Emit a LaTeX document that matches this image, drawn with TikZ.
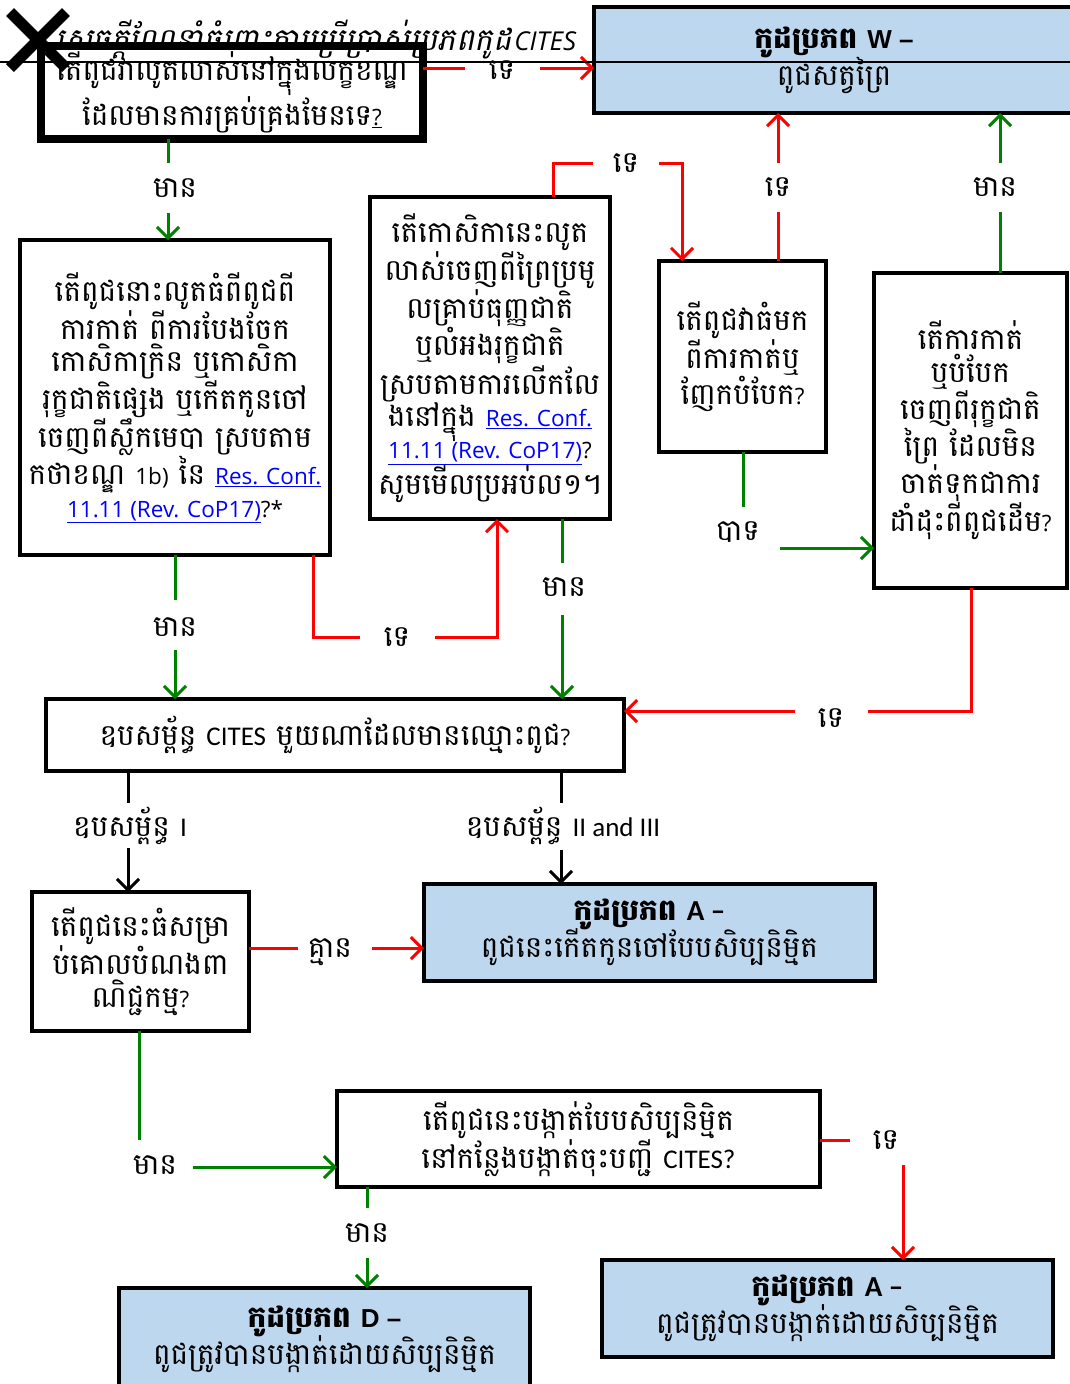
\documentclass[tikz,border=0pt]{standalone}
\usepackage{fontspec}
\usetikzlibrary{arrows.meta}
\setmainfont{Open Sans}
\newfontfamily\kh[Script=Khmer]{Battambang}
\newfontfamily\khit[Script=Khmer,FakeSlant=0.2]{Battambang}
\newfontfamily\osans{Open Sans}
\newfontfamily\calf{Carlito}
\newfontfamily\arialf{Liberation Sans}
\newcommand\lat[1]{{\osans\fontsize{22.5}{32.4}\selectfont #1}}
\newcommand\latc[1]{{\calf\fontsize{27}{32.4}\selectfont #1}}
\newcommand\hdr[1]{{\arialf\bfseries\fontsize{26}{32.4}\selectfont #1}}
\newcommand\hdrc[1]{{\calf\bfseries\fontsize{29}{32.4}\selectfont #1}}
\definecolor{boxblue}{HTML}{BDD7EE}
\definecolor{okgreen}{HTML}{008000}
\definecolor{linkblue}{HTML}{0000FF}
\newcommand\lnkx[1]{\textcolor{linkblue}{\underline{\osans\fontsize{22.5}{32.4}\selectfont #1}}}
\newcommand\khtext{\kh\fontsize{29.5}{32.4}\selectfont}
\tikzset{
  box/.style={draw=black, line width=4pt, fill=white, inner sep=0pt, outer sep=0pt, align=center, font=\khtext},
  bluebox/.style={box, fill=boxblue, line width=3.5pt},
  gline/.style={draw=okgreen, line width=3pt},
  rline/.style={draw=red, line width=3pt},
  kline/.style={draw=black, line width=3pt},
  tip/.style={-{Straight Barb[length=11pt,width=22pt]}},
  lbl/.style={font=\khtext, inner sep=0pt},
}
\begin{document}
\begin{tikzpicture}[x=1pt,y=-1pt]
\useasboundingbox (0,0) rectangle (1070,1384);
\fill[white] (0,0) rectangle (1070,1384);
% title (partly hidden)
\node[anchor=base, inner sep=0pt] (title) at (316,50) {{\khit\fontsize{31}{34}\selectfont សេចក្ដីណែនាំចំពោះការប្រើប្រាស់ប្រភពកូដ} {\osans\itshape\fontsize{26}{30}\selectfont CITES}};
% boxes
\node[box, fill=none, line width=8pt, minimum width=382pt, minimum height=93pt] (q1) at (232,92.5) {\raisebox{-3pt}{តើពូជវាលូតលាស់នៅក្នុងលក្ខខណ្ឌ}\\ដែលមានការគ្រប់គ្រងមែនទេ\lat{\underline{?}}};
\node[bluebox, minimum width=480pt, minimum height=106pt] (w) at (834,60) {{\bfseries កូដប្រភព \hdr{W –}}\\[-2pt]ពូជសត្វព្រៃ};
\node[box, minimum width=310pt, minimum height=315pt] (q2) at (175,397.5) {តើពូជនោះលូតធំពីពូជពី\\ការកាត់ ពីការបែងចែក\\កោសិកាក្រិន ឬកោសិកា\\រុក្ខជាតិផ្សេង ឬកើតកូនចៅ\\ចេញពីស្លឹកមេបា ស្របតាម\\កថាខណ្ឌ \lat{1b)} នៃ \lnkx{Res. Conf.}\\\lnkx{11.11 (Rev. CoP17)}\lat{?*}};
\node[box, minimum width=240pt, minimum height=322pt] (q3) at (490,358) {តើកោសិកានេះលូត\\លាស់ចេញពីព្រៃប្រមូ\\លគ្រាប់ធុញ្ញជាតិ\\ឬលំអងរុក្ខជាតិ\\ស្របតាមការលើកលែ\\ងនៅក្នុង \lnkx{Res. Conf.}\\\lnkx{11.11 (Rev. CoP17)}\lat{?}\\សូមមើលប្រអប់ល១។};
\node[box, minimum width=167pt, minimum height=191pt] (q4) at (742.5,356.5) {តើពូជវាធំមក\\ពីការកាត់ឬ\\ញែកបំបែក\lat{?}};
\node[box, minimum width=193pt, minimum height=315pt] (q5) at (970.5,430.5) {តើការកាត់\\ឬបំបែក\\ចេញពីរុក្ខជាតិ\\ព្រៃ ដែលមិន\\ចាត់ទុកជាការ\\ដាំដុះពីពូជដើម\lat{?}};
\node[box, minimum width=578pt, minimum height=72pt] (ann) at (335,735) {ឧបសម្ព័ន្ធ \latc{CITES} មួយណាដែលមានឈ្មោះពូជ\lat{?}};
\node[box, minimum width=217pt, minimum height=139pt] (q6) at (140.5,961.5) {តើពូជនេះធំសម្រា\\ប់គោលបំណងពា\\ណិជ្ជកម្ម\lat{?}};
\node[bluebox, minimum width=451pt, minimum height=97pt] (a1) at (649.5,932.5) {{\bfseries កូដប្រភព \hdrc{A –}}\\[-2pt]ពូជនេះកើតកូនចៅបែបសិប្បនិម្មិត};
\node[box, minimum width=483pt, minimum height=96pt] (q7) at (578.5,1139) {តើពូជនេះបង្កាត់បែបសិប្បនិម្មិត\\នៅកន្លែងបង្កាត់ចុះបញ្ជី \latc{CITES?}};
\node[bluebox, minimum width=411pt, minimum height=102pt] (d) at (324.5,1339) {{\bfseries កូដប្រភព \hdr{D –}}\\[-2pt]ពូជត្រូវបានបង្កាត់ដោយសិប្បនិម្មិត};
\node[bluebox, minimum width=451pt, minimum height=97pt] (a2) at (827.5,1308.5) {\raisebox{6pt}{\bfseries កូដប្រភព \hdrc{A –}}\\[-2pt]\raisebox{6pt}{ពូជត្រូវបានបង្កាត់ដោយសិប្បនិម្មិត}};
% labels
\node[lbl] (l1) at (502,70) {ទេ};
\node[lbl] (l2) at (175,188) {មាន};
\node[lbl] (l3) at (175,627) {មាន};
\node[lbl] (l4) at (397,637) {ទេ};
\node[lbl] (l5) at (626,163) {ទេ};
\node[lbl] (l6) at (564,587) {មាន};
\node[lbl] (l7) at (778,187) {ទេ};
\node[lbl] (l8) at (738,532) {បាទ};
\node[lbl] (l9) at (995,187) {មាន};
\node[lbl] (l10) at (831,718) {ទេ};
\node[lbl] (l11) at (130,826) {ឧបសម្ព័ន្ធ \latc{I}};
\node[lbl] (l12) at (563,826) {ឧបសម្ព័ន្ធ \latc{II and III}};
\node[lbl] (l13) at (330,952) {គ្មាន};
\node[lbl] (l14) at (155,1165) {មាន};
\node[lbl] (l15) at (367,1233) {មាន};
\node[lbl] (l16) at (886,1140) {ទេ};
% connectors
\draw[rline] (q1.east |- 0,68) -- (465,68);
\draw[rline,tip] (540,68) -- (w.west |- 0,68);
\draw[gline] (q1.south -| 168,0) -- (168,163);
\draw[gline,tip] (168,213) -- (168,0 |- q2.north);
\draw[gline] (q2.south -| 175,0) -- (175,600);
\draw[gline,tip] (175,650) -- (175,0 |- ann.north);
\draw[rline] (q2.south -| 313,0) -- (313,637) -- (360,637);
\draw[rline,tip] (435,637) -- (497,637) -- (497,0 |- q3.south);
\draw[rline] (q3.north -| 553,0) -- (553,163) -- (593,163);
\draw[rline,tip] (659,163) -- (682,163) -- (682,0 |- q4.north);
\draw[gline] (q3.south -| 562,0) -- (562,563);
\draw[gline,tip] (562,615) -- (562,0 |- ann.north);
\draw[rline] (q4.north -| 778,0) -- (778,212);
\draw[rline,tip] (778,163) -- (778,0 |- w.south);
\draw[gline] (q4.south -| 743,0) -- (743,507);
\draw[gline,tip] (780,548) -- (q5.west |- 0,548);
\draw[gline] (q5.north -| 1000,0) -- (1000,212);
\draw[gline,tip] (1000,163) -- (1000,0 |- w.south);
\draw[rline] (q5.south -| 971,0) -- (971,711) -- (868,711);
\draw[rline,tip] (795,711) -- (ann.east |- 0,711);
\draw[kline] (ann.south -| 128,0) -- (128,803);
\draw[kline,tip] (128,848) -- (128,0 |- q6.north);
\draw[kline] (ann.south -| 561,0) -- (561,803);
\draw[kline,tip] (561,850) -- (561,0 |- a1.north);
\draw[rline] (q6.east |- 0,948) -- (298,948);
\draw[rline,tip] (372,948) -- (a1.west |- 0,948);
\draw[gline] (q6.south -| 139,0) -- (139,1140);
\draw[gline,tip] (193,1167) -- (q7.west |- 0,1167);
\draw[gline] (q7.south -| 367,0) -- (367,1208);
\draw[gline,tip] (367,1258) -- (367,0 |- d.north);
\draw[rline] (q7.east |- 0,1140) -- (850,1140);
\draw[rline,tip] (903,1165) -- (903,0 |- a2.north);
% strike line and cross
\draw[black, line width=2pt] (0,62) -- (1070,62);
\draw[black, line width=11pt] (10,12) -- (66,68) (10,68) -- (66,12);
\end{tikzpicture}
\end{document}
